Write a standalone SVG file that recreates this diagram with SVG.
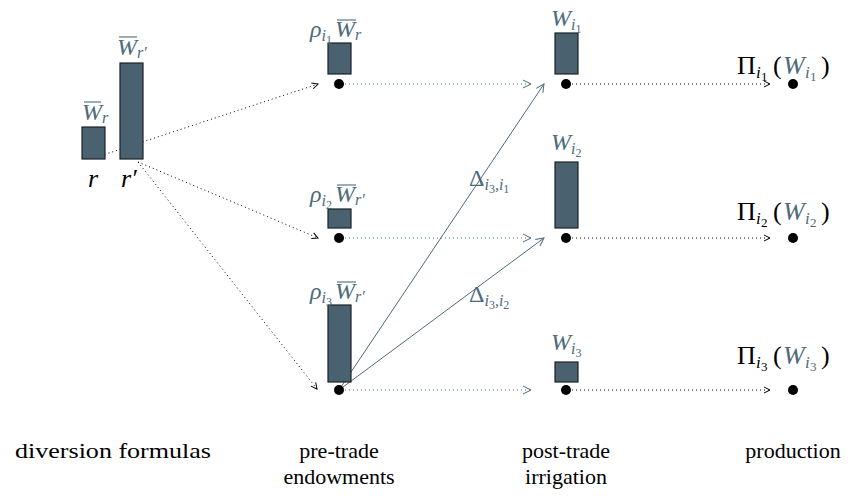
<svg xmlns="http://www.w3.org/2000/svg" width="857" height="500" viewBox="0 0 857 500">
<style>
.bar{fill:#4a6270;stroke:#1a2226;stroke-width:1.2}
.dot{fill:#000}
.m{font-family:"Liberation Serif",serif;font-size:24px;fill:#4d6b7a;font-style:italic}
.mk{font-family:"Liberation Serif",serif;font-size:26px;fill:#000}
.s{font-size:16px}
.ss{font-size:12px;font-style:normal}
.it{font-style:italic}
.upr{font-style:normal}
.pw{font-size:26px;fill:#4d6b7a;font-style:italic}
.ps{font-size:17px;font-style:italic}
.pss{font-size:13px;font-style:normal}
.ov{stroke:#4d6b7a;stroke-width:1.1}
.lab{font-family:"Liberation Serif",serif;font-size:22px;fill:#000;text-anchor:middle}
.dk{fill:none;stroke:#000;stroke-width:1;stroke-dasharray:1 3}
.ds{fill:none;stroke:#4d6b7a;stroke-width:1;stroke-dasharray:1 3}
.sl{fill:none;stroke:#4d6b7a;stroke-width:1}
</style>
<defs>
<marker id="ak" viewBox="0 0 8 8" refX="7" refY="4" markerWidth="8" markerHeight="8" markerUnits="userSpaceOnUse" orient="auto"><path d="M1,1 L7,4 L1,7" fill="none" stroke="#000" stroke-width="1"/></marker>
<marker id="as" viewBox="0 0 10 10" refX="9" refY="5" markerWidth="10" markerHeight="10" markerUnits="userSpaceOnUse" orient="auto"><path d="M1,1 L9,5 L1,9" fill="none" stroke="#4d6b7a" stroke-width="1"/></marker>
</defs>

<g id="connectors">
<line class="dk" x1="97" y1="157" x2="318" y2="84" marker-end="url(#ak)"/>
<line class="dk" x1="138" y1="162" x2="318" y2="238" marker-end="url(#ak)"/>
<line class="dk" x1="138" y1="162" x2="317" y2="389" marker-end="url(#ak)"/>
<line class="ds" x1="345" y1="84" x2="531" y2="84" marker-end="url(#as)"/>
<line class="ds" x1="345" y1="238" x2="531" y2="238" marker-end="url(#as)"/>
<line class="ds" x1="345" y1="390" x2="531" y2="390" marker-end="url(#as)"/>
<line class="dk" x1="572" y1="84" x2="770" y2="84" marker-end="url(#ak)"/>
<line class="dk" x1="572" y1="238" x2="770" y2="238" marker-end="url(#ak)"/>
<line class="dk" x1="572" y1="390" x2="770" y2="390" marker-end="url(#ak)"/>
<line class="sl" x1="339" y1="390" x2="544" y2="84" marker-end="url(#as)"/>
<line class="sl" x1="339" y1="390" x2="544" y2="238" marker-end="url(#as)"/>
<text class="m upr" x="469" y="186">Δ<tspan class="s it" dy="4">i</tspan><tspan class="ss" dy="3">3</tspan><tspan class="s it" dy="-3">,i</tspan><tspan class="ss" dy="3">1</tspan></text>
<text class="m upr" x="469" y="302">Δ<tspan class="s it" dy="4">i</tspan><tspan class="ss" dy="3">3</tspan><tspan class="s it" dy="-3">,i</tspan><tspan class="ss" dy="3">2</tspan></text>
</g>

<g id="source-r">
<rect class="bar" x="82" y="127" width="23" height="32"/>
<line class="ov" x1="84" y1="102" x2="101" y2="102"/>
<text class="m" x="82" y="120">W<tspan class="s" dy="3">r</tspan></text>
<text class="mk it" x="88" y="187">r</text>
</g>

<g id="source-rprime">
<rect class="bar" x="120" y="63" width="23" height="96"/>
<line class="ov" x1="119" y1="37" x2="137" y2="37"/>
<text class="m" x="117" y="55">W<tspan class="s" dy="3">r′</tspan></text>
<text class="mk it" x="121" y="187">r′</text>
</g>

<g id="pre-i1">
<rect class="bar" x="328" y="43" width="23" height="31"/>
<circle class="dot" cx="339" cy="84" r="5"/>
<line class="ov" x1="337" y1="20" x2="356" y2="20"/>
<text class="m" x="310" y="37">ρ<tspan class="s" dy="4">i</tspan><tspan class="ss" dy="3">1</tspan><tspan dy="-7" dx="3">W</tspan><tspan class="s" dy="3">r</tspan></text>
</g>

<g id="pre-i2">
<rect class="bar" x="328" y="209" width="23" height="19"/>
<circle class="dot" cx="339" cy="238" r="5"/>
<line class="ov" x1="337" y1="185" x2="356" y2="185"/>
<text class="m" x="310" y="202">ρ<tspan class="s" dy="4">i</tspan><tspan class="ss" dy="3">2</tspan><tspan dy="-7" dx="3">W</tspan><tspan class="s" dy="3">r′</tspan></text>
</g>

<g id="pre-i3">
<rect class="bar" x="328" y="305" width="23" height="77"/>
<circle class="dot" cx="339" cy="390" r="5"/>
<line class="ov" x1="337" y1="282" x2="356" y2="282"/>
<text class="m" x="310" y="299">ρ<tspan class="s" dy="4">i</tspan><tspan class="ss" dy="3">3</tspan><tspan dy="-7" dx="3">W</tspan><tspan class="s" dy="3">r′</tspan></text>
</g>

<g id="post-i1">
<rect class="bar" x="555" y="33" width="23" height="41"/>
<circle class="dot" cx="566" cy="84" r="5"/>
<text class="m" x="551" y="26">W<tspan class="s" dy="4">i</tspan><tspan class="ss" dy="3">1</tspan></text>
</g>

<g id="post-i2">
<rect class="bar" x="555" y="162" width="23" height="66"/>
<circle class="dot" cx="566" cy="238" r="5"/>
<text class="m" x="551" y="150">W<tspan class="s" dy="4">i</tspan><tspan class="ss" dy="3">2</tspan></text>
</g>

<g id="post-i3">
<rect class="bar" x="555" y="362" width="23" height="20"/>
<circle class="dot" cx="566" cy="390" r="5"/>
<text class="m" x="551" y="350">W<tspan class="s" dy="4">i</tspan><tspan class="ss" dy="3">3</tspan></text>
</g>

<g id="prod-i1">
<circle class="dot" cx="793" cy="84" r="5"/>
<text class="mk" y="74"><tspan x="737">Π</tspan><tspan class="ps" x="756" dy="4">i</tspan><tspan class="pss" x="761" dy="3">1</tspan><tspan x="773" dy="-7">(</tspan><tspan class="pw" x="783">W</tspan><tspan class="ps" fill="#4d6b7a" x="805" dy="4">i</tspan><tspan class="pss" fill="#4d6b7a" x="810" dy="3">1</tspan><tspan x="821" dy="-7">)</tspan></text>
</g>

<g id="prod-i2">
<circle class="dot" cx="793" cy="238" r="5"/>
<text class="mk" y="220"><tspan x="737">Π</tspan><tspan class="ps" x="756" dy="4">i</tspan><tspan class="pss" x="761" dy="3">2</tspan><tspan x="773" dy="-7">(</tspan><tspan class="pw" x="783">W</tspan><tspan class="ps" fill="#4d6b7a" x="805" dy="4">i</tspan><tspan class="pss" fill="#4d6b7a" x="810" dy="3">2</tspan><tspan x="821" dy="-7">)</tspan></text>
</g>

<g id="prod-i3">
<circle class="dot" cx="793" cy="390" r="5"/>
<text class="mk" y="364"><tspan x="737">Π</tspan><tspan class="ps" x="756" dy="4">i</tspan><tspan class="pss" x="761" dy="3">3</tspan><tspan x="773" dy="-7">(</tspan><tspan class="pw" x="783">W</tspan><tspan class="ps" fill="#4d6b7a" x="805" dy="4">i</tspan><tspan class="pss" fill="#4d6b7a" x="810" dy="3">3</tspan><tspan x="821" dy="-7">)</tspan></text>
</g>

<g id="labels">
<text class="lab" x="113" y="458" textLength="196" lengthAdjust="spacingAndGlyphs">diversion formulas</text>
<text class="lab" x="339" y="458">pre-trade</text>
<text class="lab" x="339" y="484">endowments</text>
<text class="lab" x="566" y="458">post-trade</text>
<text class="lab" x="566" y="484">irrigation</text>
<text class="lab" x="793" y="458">production</text>
</g>
</svg>
